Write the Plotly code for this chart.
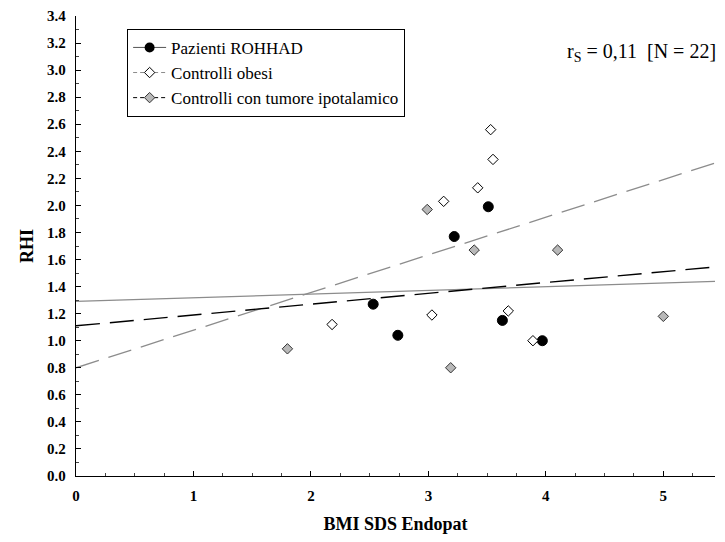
import plotly.graph_objects as go

# Pazienti ROHHAD (cerchi neri)
rohhad_bmi = [3.22, 3.51, 2.53, 2.74, 3.63, 3.97]
rohhad_rhi = [1.77, 1.99, 1.27, 1.04, 1.15, 1.00]

# Controlli obesi (rombi bianchi)
obesi_bmi = [3.53, 3.55, 3.42, 3.13, 2.18, 3.03, 3.68, 3.89]
obesi_rhi = [2.56, 2.34, 2.13, 2.03, 1.12, 1.19, 1.22, 1.00]

# Controlli con tumore ipotalamico (rombi grigi)
tumore_bmi = [2.99, 3.39, 4.10, 3.19, 1.80, 5.00]
tumore_rhi = [1.97, 1.67, 1.67, 0.80, 0.94, 1.18]

# rette di regressione (estremi 0 e 5.5)
line_x = [0, 5.5]
rohhad_fit = [1.29, 1.44]
obesi_fit = [0.80, 2.33]
tumore_fit = [1.11, 1.55]

serif = "Liberation Serif"

fig = go.Figure()

# rette
fig.add_trace(go.Scatter(x=line_x, y=rohhad_fit, mode="lines", showlegend=False,
                         line=dict(color="#8c8c8c", width=1.3)))
fig.add_trace(go.Scatter(x=line_x, y=obesi_fit, mode="lines", showlegend=False,
                         line=dict(color="#8c8c8c", width=1.3, dash="24px,10px")))
fig.add_trace(go.Scatter(x=line_x, y=tumore_fit, mode="lines", showlegend=False,
                         line=dict(color="black", width=1.4, dash="24px,10px")))

# punti
fig.add_trace(go.Scatter(x=rohhad_bmi, y=rohhad_rhi, mode="markers", showlegend=False,
                         marker=dict(symbol="circle", size=10, color="black",
                                     line=dict(color="black", width=1))))
fig.add_trace(go.Scatter(x=obesi_bmi, y=obesi_rhi, mode="markers", showlegend=False,
                         marker=dict(symbol="diamond", size=8, color="white",
                                     line=dict(color="black", width=1))))
fig.add_trace(go.Scatter(x=tumore_bmi, y=tumore_rhi, mode="markers", showlegend=False,
                         marker=dict(symbol="diamond", size=8, color="#b8b8b8",
                                     line=dict(color="#333333", width=1))))

# voci di legenda
fig.add_trace(go.Scatter(x=[None], y=[None], mode="lines+markers", name="Pazienti ROHHAD",
                         line=dict(color="#555555", width=1),
                         marker=dict(symbol="circle", size=10, color="black")))
fig.add_trace(go.Scatter(x=[None], y=[None], mode="lines+markers", name="Controlli obesi",
                         line=dict(color="#8c8c8c", width=1, dash="4px,3px"),
                         marker=dict(symbol="diamond", size=8, color="white",
                                     line=dict(color="black", width=1))))
fig.add_trace(go.Scatter(x=[None], y=[None], mode="lines+markers",
                         name="Controlli con tumore ipotalamico",
                         line=dict(color="black", width=1, dash="4px,3px"),
                         marker=dict(symbol="diamond", size=8, color="#b8b8b8",
                                     line=dict(color="#333333", width=1))))

fig.add_annotation(x=1.0, y=0.92, xref="paper", yref="paper", xanchor="right", yanchor="middle",
                   xshift=3, text="r<sub>S</sub> = 0,11  [N = 22]", showarrow=False,
                   font=dict(family=serif, size=20, color="black"))

fig.update_xaxes(range=[0, 5.44], dtick=1, tick0=0, showgrid=False, zeroline=False,
                 showline=True, linecolor="black", linewidth=1.3,
                 ticks="inside", ticklen=5, tickcolor="black", ticklabelstandoff=6,
                 minor=dict(dtick=0.25, ticks="inside", ticklen=3, tickcolor="#444444"),
                 tickfont=dict(family=serif, size=15, color="black", weight="bold"),
                 title=dict(text="BMI SDS Endopat", standoff=14,
                            font=dict(family=serif, size=18, color="black", weight="bold")))
fig.update_yaxes(range=[0, 3.4], dtick=0.2, tick0=0, tickformat=".1f", showgrid=False,
                 zeroline=False, showline=True, linecolor="black", linewidth=1.3,
                 ticks="inside", ticklen=5, tickcolor="black", ticklabelstandoff=6,
                 minor=dict(dtick=0.1, ticks="inside", ticklen=3, tickcolor="#444444"),
                 tickfont=dict(family=serif, size=15, color="black", weight="bold"),
                 title=dict(text="RHI", standoff=8,
                            font=dict(family=serif, size=18, color="black", weight="bold")))

fig.update_layout(
    width=709, height=526,
    margin=dict(l=68, r=2, t=8, b=58, autoexpand=False),
    plot_bgcolor="white", paper_bgcolor="white",
    legend=dict(x=0.080, y=0.972, xanchor="left", yanchor="top",
                bordercolor="black", borderwidth=1, bgcolor="white",
                font=dict(family=serif, size=17, color="black"),
                tracegroupgap=0, itemwidth=33),
)

fig.write_html("out.html")
